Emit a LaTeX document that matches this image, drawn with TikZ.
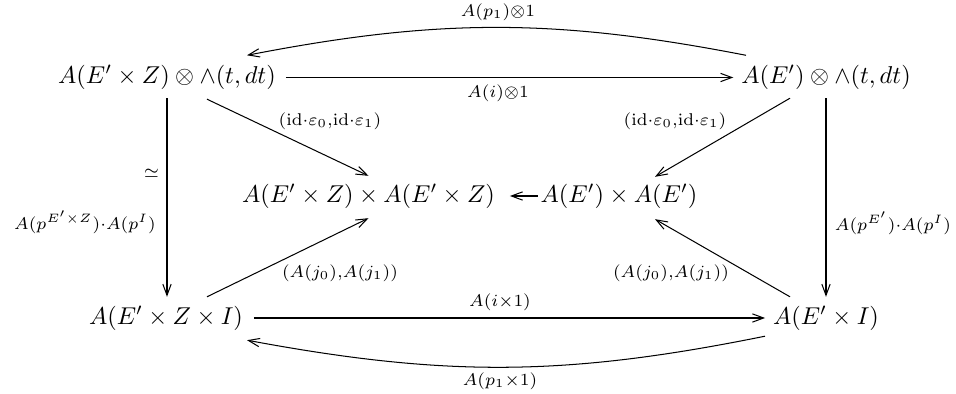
\documentclass[tikz,border=0pt]{standalone}
\usetikzlibrary{arrows.meta,calc}
\begin{document}
\begin{tikzpicture}[x=0.4106pt,y=-0.4106pt,
  obj/.style={inner sep=0pt,outer sep=0pt},
  lab/.style={inner sep=0pt},
  arr/.style={line width=0.42pt,-{Straight Barb[length=4.6pt,width=3.4pt]}}]
\useasboundingbox (0,0) rectangle (956,394);
\node[obj] (tl) at (167,77.5) {$A(E'\times Z)\otimes\wedge(t,dt)$};
\node[obj] (tr) at (826,77.5) {$A(E')\otimes\wedge(t,dt)$};
\node[obj] (ml) at (368.5,196) {$A(E'\times Z)\times A(E'\times Z)$};
\node[obj] (mr) at (619,196) {$A(E')\times A(E')$};
\node[obj] (bl) at (166,318) {$A(E'\times Z\times I)$};
\node[obj] (br) at (826,318) {$A(E'\times I)$};
% horizontal top
\draw[arr] ($(tl.east)+(10,0)$) -- ($(tr.west)+(-8,0)$);
\node[lab] (lai) at (498,93) {$\scriptstyle A(i)\otimes 1$};
% curve top
\draw[arr] ($(tr.north)+(-80,-10)$) to[bend right=11] ($(tl.north)+(80,-10)$);
\node[lab] (lap) at (498,12) {$\scriptstyle A(p_1)\otimes 1$};
% verticals
\draw[arr] ($(tl.south)+(0,8.5)$) -- ($(tl.south|-bl.north)+(0,-9)$);
\node[lab] (lsim) at (151.5,173) {$\scriptstyle\simeq$};
\node[lab] (lpl) at (85,222) {$\scriptstyle A(p^{E'\times Z})\cdot A(p^I)$};
\draw[arr] ($(tr.south)+(0,8.5)$) -- ($(tr.south|-br.north)+(0,-9)$);
\node[lab] (lpr) at (893,223) {$\scriptstyle A(p^{E'})\cdot A(p^I)$};
% diagonals
\draw[arr] ($(tl.south)+(40,9.5)$) -- ($(ml.north)+(0,-8)$);
\node[lab] (lel) at (330,121) {$\scriptstyle(\mathrm{id}\cdot\varepsilon_0,\mathrm{id}\cdot\varepsilon_1)$};
\draw[arr] ($(tr.south)+(-36,8.5)$) -- ($(mr.north)+(36,-7)$);
\node[lab] (ler) at (675,121) {$\scriptstyle(\mathrm{id}\cdot\varepsilon_0,\mathrm{id}\cdot\varepsilon_1)$};
\draw[arr] ($(bl.north)+(41,-9)$) -- ($(ml.south)+(0,10)$);
\node[lab] (ljl) at (340,273) {$\scriptstyle(A(j_0),A(j_1))$};
\draw[arr] ($(br.north)+(-36,-9)$) -- ($(mr.south)+(36,11)$);
\node[lab] (ljr) at (671,273) {$\scriptstyle(A(j_0),A(j_1))$};
% middle
\draw[arr] ($(mr.west)+(-3,0)$) -- ($(ml.east)+(15,0)$);
% bottom
\draw[arr] ($(bl.east)+(11,0)$) -- ($(br.west)+(-8,0)$);
\node[lab] (lix) at (500,302.5) {$\scriptstyle A(i\times 1)$};
\draw[arr] ($(br.south)+(-61,6)$) to[bend left=11] ($(bl.south)+(81,10)$);
\node[lab] (lpx) at (500,381) {$\scriptstyle A(p_1\times 1)$};
\end{tikzpicture}
\end{document}
